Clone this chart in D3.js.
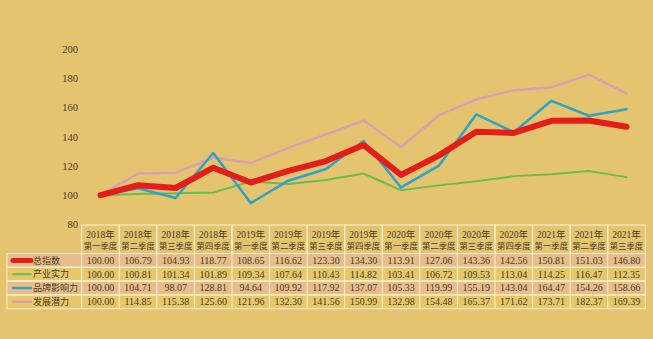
<!DOCTYPE html>
<html>
<head>
<meta charset="utf-8">
<script src="https://cdn.jsdelivr.net/npm/d3@7"></script>
<style>
  html, body { margin: 0; padding: 0; background: #e4c46e; }
  svg { display: block; }
</style>
</head>
<body>
<svg id="chart" width="653" height="339"></svg>
<script>
// Quarters (two header lines per column)
const years = ["2018年","2018年","2018年","2018年","2019年","2019年","2019年","2019年","2020年","2020年","2020年","2020年","2021年","2021年","2021年"];
const quarters = ["第一季度","第二季度","第三季度","第四季度","第一季度","第二季度","第三季度","第四季度","第一季度","第二季度","第三季度","第四季度","第一季度","第二季度","第三季度"];

// Index series
const totalIndex   = [100.00,106.79,104.93,118.77,108.65,116.62,123.30,134.30,113.91,127.06,143.36,142.56,150.81,151.03,146.80];
const industry     = [100.00,100.81,101.34,101.89,109.34,107.64,110.43,114.82,103.41,106.72,109.53,113.04,114.25,116.47,112.35];
const brand        = [100.00,104.71, 98.07,128.81, 94.64,109.92,117.92,137.07,105.33,119.99,155.19,143.04,164.47,154.26,158.66];
const potential    = [100.00,114.85,115.38,125.60,121.96,132.30,141.56,150.99,132.98,154.48,165.37,171.62,173.71,182.37,169.39];

const seriesNames = ["总指数","产业实力","品牌影响力","发展潜力"];
const yTicks = [80,100,120,140,160,180,200];

const seriesList = [
  { name: seriesNames[0], values: totalIndex, color: "#e41d1b", width: 6,   legendWidth: 5,   rowFill: "#e8bd8b" },
  { name: seriesNames[1], values: industry,   color: "#6cbb52", width: 2,   legendWidth: 2,   rowFill: "#e7c768" },
  { name: seriesNames[2], values: brand,      color: "#2fa3c6", width: 2.5, legendWidth: 2.5, rowFill: "#e8bd8b" },
  { name: seriesNames[3], values: potential,  color: "#d6a1b3", width: 2.5, legendWidth: 2.5, rowFill: "#e7c768" }
];

const svg = d3.select("#chart");
const textColor = "#4a3c2c";
const serif = "'Liberation Serif', 'Noto Sans CJK SC', serif";

const x = d3.scaleBand().domain(d3.range(years.length)).range([81.7, 645.3]).padding(0);
const y = d3.scaleLinear().domain([80, 200]).range([224.5, 48.8]);
const cx = i => x(i) + x.bandwidth() / 2;

// Y axis: labels only
const yAxis = d3.axisLeft(y).tickValues(yTicks).tickSize(0).tickPadding(0);
const gy = svg.append("g").attr("transform", "translate(78,0)").call(yAxis);
gy.select(".domain").remove();
gy.selectAll("text")
  .attr("fill", textColor)
  .style("font-family", serif)
  .style("font-size", "10.5px");

// Lines: thin series first, total index on top
const line = d3.line().x((d, i) => cx(i)).y(d => y(d));
const drawOrder = [seriesList[3], seriesList[1], seriesList[2], seriesList[0]];
svg.append("g").selectAll("path")
  .data(drawOrder)
  .join("path")
  .attr("d", s => line(s.values))
  .attr("fill", "none")
  .attr("stroke", s => s.color)
  .attr("stroke-width", s => s.width)
  .attr("stroke-linejoin", "round")
  .attr("stroke-linecap", "round");

// Data table
const border = "#fbf1d4";
const headTop = 225, headH = 28.5, rowH = 13.8;
const tableLeft = 7;
const table = svg.append("g");

// header cells
const head = table.append("g").selectAll("g")
  .data(years.map((yr, i) => ({ yr, q: quarters[i], i })))
  .join("g");
head.append("rect")
  .attr("x", d => x(d.i)).attr("y", headTop)
  .attr("width", x.bandwidth()).attr("height", headH)
  .attr("fill", "none").attr("stroke", border).attr("stroke-width", 1);
head.append("text")
  .attr("x", d => cx(d.i)).attr("y", headTop + 13)
  .attr("text-anchor", "middle").attr("fill", textColor)
  .style("font-family", serif).style("font-size", "9.5px")
  .text(d => d.yr);
head.append("text")
  .attr("x", d => cx(d.i)).attr("y", headTop + 24)
  .attr("text-anchor", "middle").attr("fill", textColor)
  .style("font-family", serif).style("font-size", "8.4px")
  .text(d => d.q);

// data rows
const rows = table.append("g").selectAll("g")
  .data(seriesList)
  .join("g")
  .attr("transform", (s, r) => `translate(0,${headTop + headH + r * rowH})`);

rows.append("rect")
  .attr("x", tableLeft).attr("y", 0)
  .attr("width", x.range()[1] - tableLeft).attr("height", rowH)
  .attr("fill", s => s.rowFill).attr("stroke", border).attr("stroke-width", 1);

rows.append("line")
  .attr("x1", tableLeft).attr("x2", x.range()[1])
  .attr("y1", 0).attr("y2", 0)
  .attr("stroke", border);

rows.selectAll("line.sep")
  .data(d3.range(years.length))
  .join("line").attr("class", "sep")
  .attr("x1", i => x(i)).attr("x2", i => x(i))
  .attr("y1", 0).attr("y2", rowH)
  .attr("stroke", border).attr("stroke-width", 1);

// legend sample + name
rows.append("line")
  .attr("x1", 13).attr("x2", 31)
  .attr("y1", rowH / 2).attr("y2", rowH / 2)
  .attr("stroke", s => s.color)
  .attr("stroke-width", s => s.legendWidth)
  .attr("stroke-linecap", "round");
rows.append("text")
  .attr("x", 33).attr("y", rowH / 2 + 3.3)
  .attr("fill", textColor)
  .style("font-family", "'Noto Sans CJK SC', sans-serif")
  .style("font-size", "9px")
  .text(s => s.name);

// values
rows.selectAll("text.val")
  .data(s => s.values)
  .join("text").attr("class", "val")
  .attr("x", (v, i) => cx(i)).attr("y", rowH / 2 + 3.5)
  .attr("text-anchor", "middle").attr("fill", textColor)
  .style("font-family", serif).style("font-size", "10px")
  .text(v => v.toFixed(2));
</script>
</body>
</html>
